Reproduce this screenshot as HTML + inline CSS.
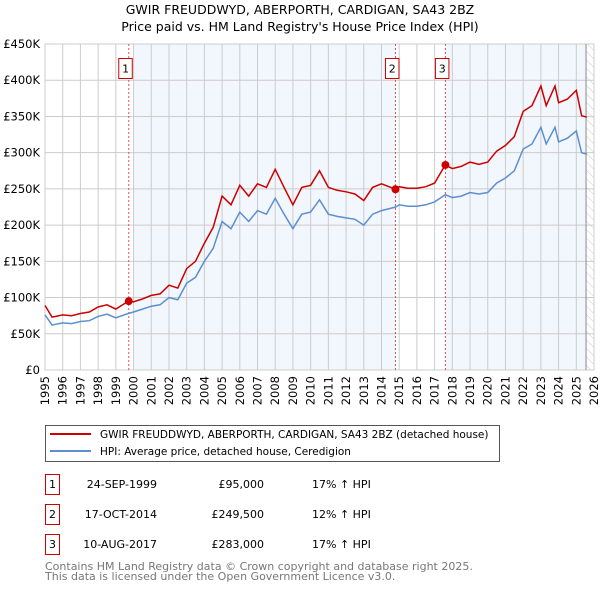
<!DOCTYPE html>
<html><head><meta charset="utf-8">
<style>
body{margin:0;background:#fff;width:600px;height:590px;overflow:hidden;font-family:"DejaVu Sans","Liberation Sans",sans-serif;}
svg text{font-family:"DejaVu Sans","Liberation Sans",sans-serif;}
</style></head>
<body>
<svg id="chart" width="600" height="590" xmlns="http://www.w3.org/2000/svg">
<defs>
<pattern id="hatch" width="6" height="6" patternUnits="userSpaceOnUse" patternTransform="rotate(-45)">
<line x1="0" y1="0" x2="0" y2="6" stroke="#ccc" stroke-width="1"/>
</pattern>
</defs>
<text x="300" y="14" text-anchor="middle" font-size="12.5">GWIR FREUDDWYD, ABERPORTH, CARDIGAN, SA43 2BZ</text>
<text x="300" y="31" text-anchor="middle" font-size="12.5">Price paid vs. HM Land Registry's House Price Index (HPI)</text>
<g id="plot"></g>
<g>
<rect x="45.5" y="425.5" width="454" height="36" fill="#fff" stroke="#555"/>
<line x1="50" y1="434" x2="91" y2="434" stroke="#cc0000" stroke-width="2"/>
<text x="100" y="438" font-size="10.5">GWIR FREUDDWYD, ABERPORTH, CARDIGAN, SA43 2BZ (detached house)</text>
<line x1="50" y1="451" x2="91" y2="451" stroke="#5b8fd0" stroke-width="2"/>
<text x="100" y="455" font-size="10.5">HPI: Average price, detached house, Ceredigion</text>
</g>
<g id="table" font-size="11"></g>
<text x="45" y="570" font-size="11" fill="#777">Contains HM Land Registry data © Crown copyright and database right 2025.</text>
<text x="45" y="580" font-size="11" fill="#777">This data is licensed under the Open Government Licence v3.0.</text>
</svg>
<script>
const hpiYears=[1995,1995.4,1996,1996.5,1997,1997.5,1998,1998.5,1999,1999.7,2000,2000.5,2001,2001.5,2002,2002.5,2003,2003.5,2004,2004.5,2005,2005.5,2006,2006.5,2007,2007.5,2008,2008.5,2009,2009.5,2010,2010.5,2011,2011.5,2012,2012.5,2013,2013.5,2014,2014.8,2015,2015.5,2016,2016.5,2017,2017.6,2018,2018.5,2019,2019.5,2020,2020.5,2021,2021.5,2022,2022.5,2023,2023.3,2023.8,2024,2024.5,2025,2025.3,2025.6];
const hpiValues=[76,62,65,64,67,68,74,77,72,78,80,84,88,90,100,97,120,128,150,168,205,195,218,205,220,215,237,215,195,215,218,235,215,212,210,208,200,215,220,225,228,226,226,228,232,242,238,240,245,243,245,258,265,275,305,312,335,312,335,315,320,330,300,298];
const priceValues=[89,73,76,75,78,80,87,90,84,95,94,98,103,105,117,113,140,150,175,197,240,228,255,240,257,252,277,252,228,252,255,275,252,248,246,243,234,252,257,249.5,253,251,251,253,258,283,278,281,287,284,287,302,310,322,357,365,392,365,392,369,374,386,351,349];
const saleYears=[1999.73,2014.79,2017.61];
const salePrices=[95,249.5,283];
const saleLabels=["1","2","3"];
const saleDates=["24-SEP-1999","17-OCT-2014","10-AUG-2017"];
const salePriceText=["£95,000","£249,500","£283,000"];
const saleHpiText=["17% ↑ HPI","12% ↑ HPI","17% ↑ HPI"];
const yTicks=[0,50,100,150,200,250,300,350,400,450];
const yTickLabels=["£0","£50K","£100K","£150K","£200K","£250K","£300K","£350K","£400K","£450K"];
const xTicks=[1995,1996,1997,1998,1999,2000,2001,2002,2003,2004,2005,2006,2007,2008,2009,2010,2011,2012,2013,2014,2015,2016,2017,2018,2019,2020,2021,2022,2023,2024,2025,2026];

const NS="http://www.w3.org/2000/svg";
const X0=45,X1=594,Y0=370,Y1=44;
const xs=v=>X0+(v-1995)/(2026-1995)*(X1-X0);
const ys=v=>Y0-v/450*(Y0-Y1);
const plot=document.getElementById('plot');
function mk(tag,attrs,parent){const e=document.createElementNS(NS,tag);for(const k in attrs)e.setAttribute(k,attrs[k]);(parent||plot).appendChild(e);return e;}

let r=mk('rect',{x:X0,y:Y1,width:X1-X0,height:Y0-Y1,fill:'#fff'});


r=mk('rect',{x:xs(2000.0),y:Y1,width:xs(saleYears[1])-xs(2000.0),height:Y0-Y1,fill:'#eef3fc',opacity:0.75});


r=mk('rect',{x:xs(saleYears[2]),y:Y1,width:xs(2025.55)-xs(saleYears[2]),height:Y0-Y1,fill:'#eef3fc',opacity:0.75});


r=mk('rect',{x:xs(2025.55),y:Y1,width:X1-xs(2025.55),height:Y0-Y1,fill:'url(#hatch)'});



xTicks.forEach(t=>{
 const l=mk('line',{x1:xs(t),x2:xs(t),y1:Y1,y2:Y0,stroke:'#ccc','stroke-width':1});
 
 
 const x=xs(t)+4;
 const tx=mk('text',{x:x,y:Y0+6,'font-size':11.5,'text-anchor':'end',transform:`rotate(-90 ${x} ${Y0+6})`});
 tx.textContent=t;
 
 
});
yTicks.forEach((t,i)=>{
 const l=mk('line',{x1:X0,x2:X1,y1:ys(t),y2:ys(t),stroke:'#ccc','stroke-width':1});
 
 
 const tx=mk('text',{x:40,y:ys(t)+4,'font-size':11.5,'text-anchor':'end'});
 tx.textContent=yTickLabels[i];
 
 
});
r=mk('rect',{x:X0,y:Y1,width:X1-X0,height:Y0-Y1,fill:'none',stroke:'#ccc'});


let l=mk('line',{x1:xs(2025.55),x2:xs(2025.55),y1:Y1,y2:Y0,stroke:'#888'});



saleYears.forEach((y,i)=>{
 const v=mk('line',{x1:xs(y),x2:xs(y),y1:Y1,y2:Y0,stroke:'#e05050','stroke-width':1,'stroke-dasharray':'2,2'});
 
 
 const b=mk('rect',{x:xs(y)-10,y:58.5,width:13.5,height:20,fill:'#fff',stroke:'#cc0000'});
 
 
 const t=mk('text',{x:xs(y)-3.2,y:72.5,'font-size':11,'text-anchor':'middle'});
 t.textContent=saleLabels[i];
 
 
});

const path=(xsArr,vals)=>xsArr.map((x,i)=>(i?'L':'M')+xs(x).toFixed(1)+','+ys(vals[i]).toFixed(1)).join('');
let p=mk('path',{d:path(hpiYears,hpiValues),fill:'none',stroke:'#5b8fd0','stroke-width':1.5});


p=mk('path',{d:path(hpiYears,priceValues),fill:'none',stroke:'#cc0000','stroke-width':1.5});


saleYears.forEach((y,i)=>{
 const c=mk('circle',{cx:xs(y),cy:ys(salePrices[i]),r:4,fill:'#cc0000'});
 
 
});

const tbl=document.getElementById('table');
saleYears.forEach((y,i)=>{
 const cy=483+i*30;
 const b=mk('rect',{x:45.5,y:cy-8.5,width:14,height:20,fill:'#fff',stroke:'#cc0000'},tbl);
 
 
 const n=mk('text',{x:52.5,y:cy+5,'text-anchor':'middle'},tbl);
 n.textContent=saleLabels[i];
 
 
 const d=mk('text',{x:157,y:cy+5,'text-anchor':'end'},tbl);
 d.textContent=saleDates[i];
 
 
 const pr=mk('text',{x:264,y:cy+5,'text-anchor':'end'},tbl);
 pr.textContent=salePriceText[i];
 
 
 const h=mk('text',{x:312,y:cy+5},tbl);
 h.textContent=saleHpiText[i];
 
 
});
</script>
</body></html>
